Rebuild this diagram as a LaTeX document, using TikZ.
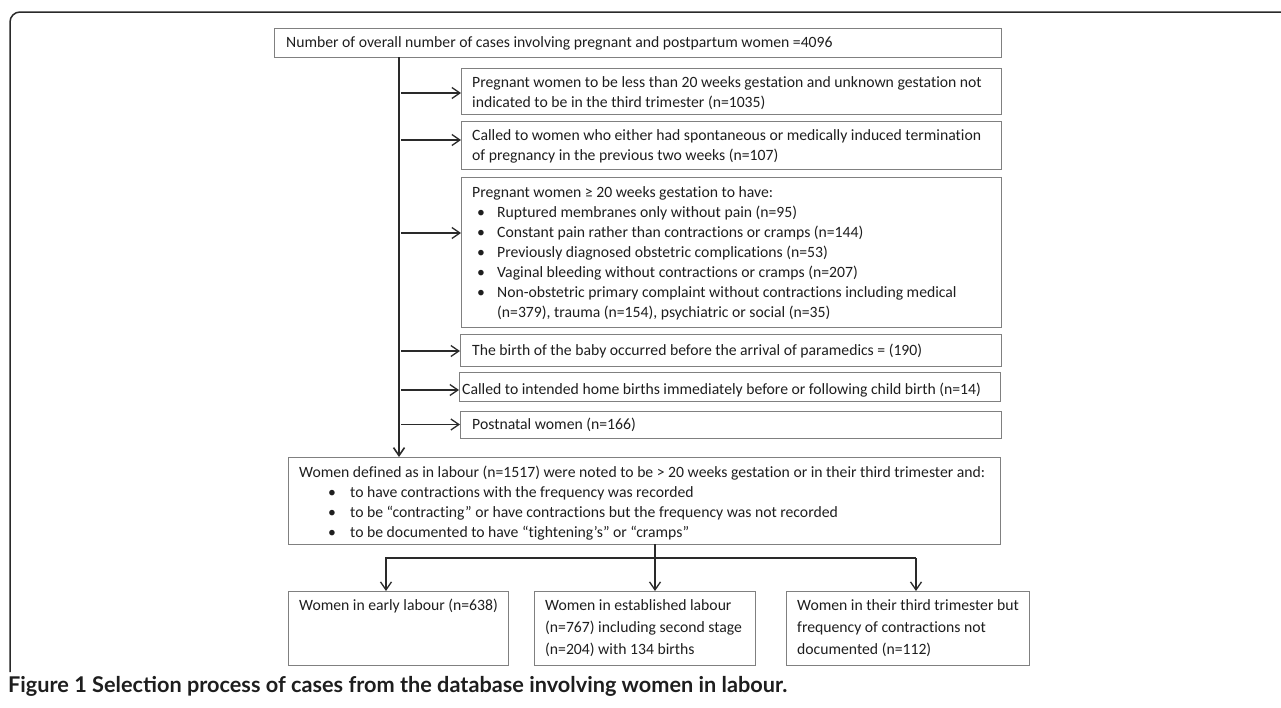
\documentclass[tikz,border=0pt]{standalone}
\usepackage{fontspec}
\setmainfont{Carlito}[Ligatures=NoCommon]
\newfontfamily\capfont{Lato}
\usetikzlibrary{arrows.meta,calc}
\definecolor{boxgray}{HTML}{808080}
\definecolor{linedark}{HTML}{2A2A2A}
\definecolor{txtc}{HTML}{1E1E1E}
\newcommand\myb{\hspace*{5pt}\makebox[20pt][l]{\textbullet}}
\newcommand\mybb{\hspace*{29pt}\makebox[22pt][l]{\textbullet}}
\begin{document}
\begin{tikzpicture}[x=1pt,y=-1pt,
  box/.style={draw=boxgray, line width=1pt, anchor=north west, inner sep=0pt, outer sep=0pt},
  txt/.style={anchor=north west, inner sep=0pt, align=left, text=txtc, font=\fontsize{15.7}{20}\selectfont},
  txtw/.style={txt, font=\fontsize{15.7}{22}\selectfont},
  arr/.style={draw=linedark, line width=1.3pt, -{Straight Barb[length=8pt,width=11pt,line width=1.3pt]}},
  trunkarr/.style={draw=linedark, line width=2pt, -{Straight Barb[length=8pt,width=11pt,line width=1.6pt]}},
  frameline/.style={draw=linedark, line width=1.5pt, rounded corners=10pt}
 ]
\useasboundingbox (0,0) rectangle (1281,707);

% frame
\draw[frameline] (10,672) -- (10,12) -- (1281,12);

% boxes
\node[box, minimum width=727pt, minimum height=29pt] (top) at (274,28) {};
\node[box, minimum width=540pt, minimum height=46pt] (b1) at (461,68) {};
\node[box, minimum width=540pt, minimum height=48pt] (b2) at (461,121) {};
\node[box, minimum width=540pt, minimum height=150pt] (b3) at (461,177) {};
\node[box, minimum width=541pt, minimum height=32pt] (b4) at (460,334) {};
\node[box, minimum width=541pt, minimum height=29pt] (b5) at (459,372) {};
\node[box, minimum width=541pt, minimum height=27pt] (b6) at (460,411) {};
\node[box, minimum width=712pt, minimum height=87pt] (bot) at (288,457) {};
\node[box, minimum width=220pt, minimum height=74pt] (A) at (288,591) {};
\node[box, minimum width=221pt, minimum height=74pt] (B) at (534,591) {};
\node[box, minimum width=243pt, minimum height=74pt] (C) at (786,591) {};

% texts
\node[txt] (ttop) at (286,36) {Number of overall number of cases involving pregnant and postpartum women =4096};
\node[txt] (t1) at (472,76) {Pregnant women to be less than 20 weeks gestation and unknown gestation not\\indicated to be in the third trimester (n=1035)};
\node[txt] (t2) at (472,129) {Called to women who either had spontaneous or medically induced termination\\of pregnancy in the previous two weeks (n=107)};
\node[txt] (t3) at (472,186) {Pregnant women ≥ 20 weeks gestation to have:\\
\myb Ruptured membranes only without pain (n=95)\\
\myb Constant pain rather than contractions or cramps (n=144)\\
\myb Previously diagnosed obstetric complications (n=53)\\
\myb Vaginal bleeding without contractions or cramps (n=207)\\
\myb Non-obstetric primary complaint without contractions including medical\\
\hspace*{25pt}(n=379), trauma (n=154), psychiatric or social (n=35)};
\node[txt] (t4) at (472,344) {The birth of the baby occurred before the arrival of paramedics = (190)};
\node[txt] (t5) at (462,383) {Called to intended home births immediately before or following child birth (n=14)};
\node[txt] (t6) at (472,418) {Postnatal women (n=166)};
\node[txt] (tb) at (299,466) {Women defined as in labour (n=1517) were noted to be > 20 weeks gestation or in their third trimester and:\\
\mybb to have contractions with the frequency was recorded\\
\mybb to be “contracting” or have contractions but the frequency was not recorded\\
\mybb to be documented to have “tightening’s” or “cramps”};
\node[txtw] (tA) at (299,599) {Women in early labour (n=638)};
\node[txtw] (tB) at (545,599) {Women in established labour\\(n=767) including second stage\\(n=204) with 134 births};
\node[txtw] (tC) at (797,599) {Women in their third trimester but\\frequency of contractions not\\documented (n=112)};

% trunk and side arrows
\coordinate (ts) at (top.south -| 399,0);
\draw[trunkarr] (ts) -- (ts |- bot.north);
\coordinate (e1) at ([yshift=-2pt]b1.west);
\coordinate (e2) at ([yshift=5pt]b2.west);
\coordinate (e3) at ([yshift=19pt]b3.west);
\coordinate (e4) at ([yshift=-1pt]b4.west);
\coordinate (e5) at ([yshift=-3.5pt]b5.west);
\coordinate (e6) at (b6.west);
\foreach \e in {e1,e2,e3,e4,e5,e6}{
  \draw[arr] ([xshift=2pt]ts |- \e) -- (\e);
}

% split to the three bottom boxes
\coordinate (aA) at ([xshift=-12pt]A.north);
\coordinate (aB) at ([xshift=10.5pt]B.north);
\coordinate (aC) at ([xshift=8.5pt]C.north);
\coordinate (hy) at (0,558);
\coordinate (sp) at (bot.south -| aB);
\draw[arr] (sp) -- (aB);
\draw[arr] (aC |- hy) -- (aA |- hy) -- (aA);
\draw[arr] (aC |- hy) -- (aC);

% caption
\node[anchor=west, inner sep=0pt, text=txtc, font=\capfont\bfseries\fontsize{21.7}{26}\selectfont] (cap) at (8,686) {Figure 1 Selection process of cases from the database involving women in labour.};
\end{tikzpicture}
\end{document}
